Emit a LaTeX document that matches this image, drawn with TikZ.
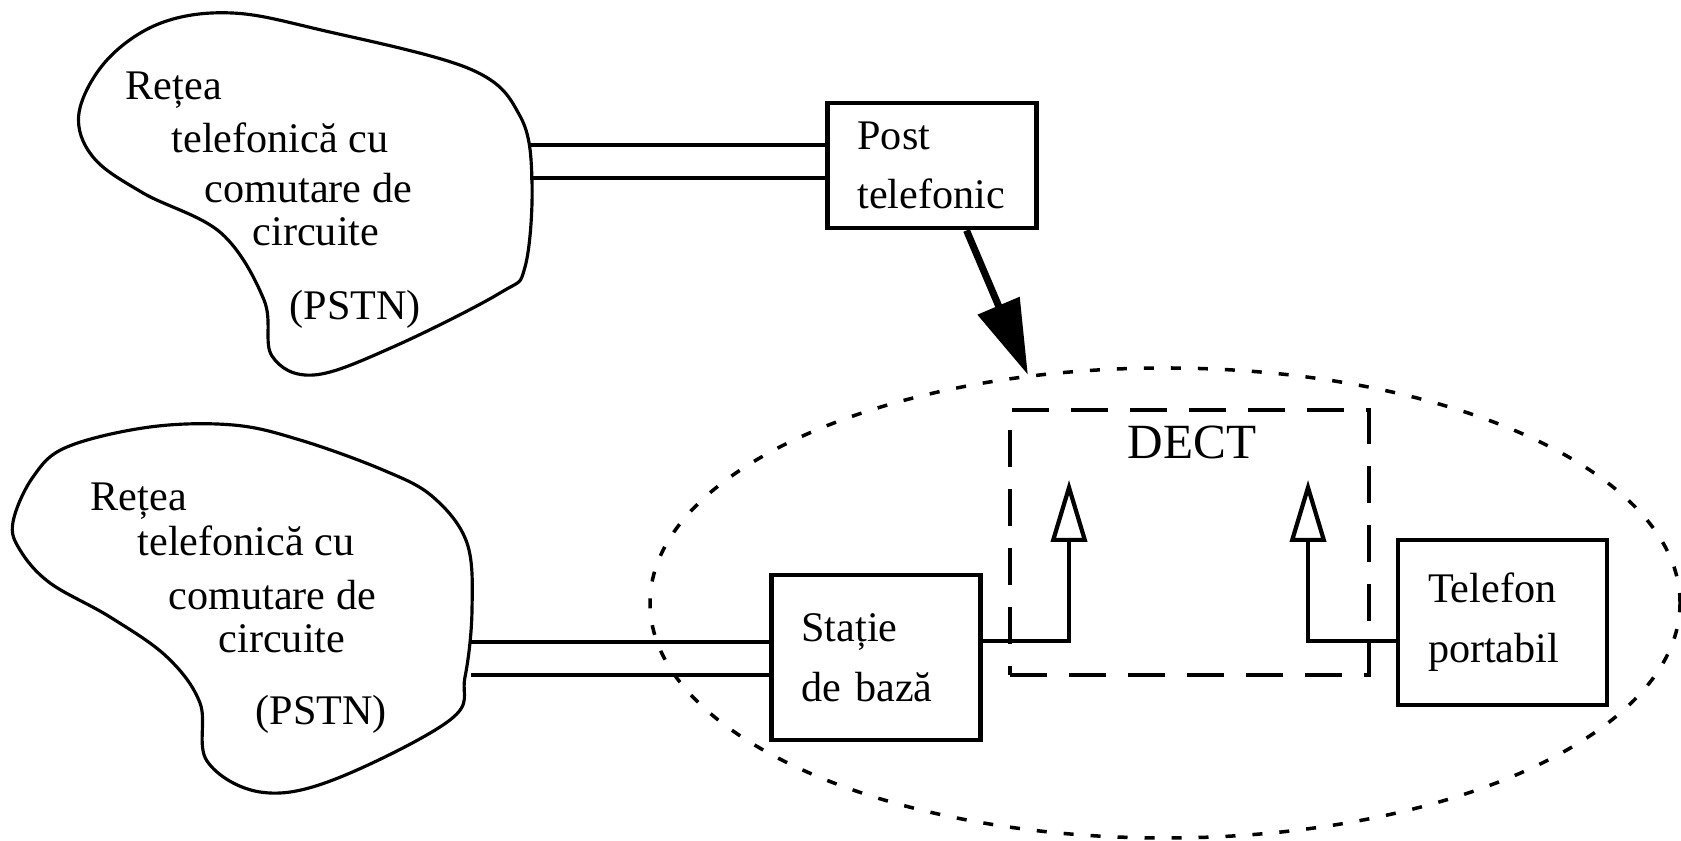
\documentclass[tikz,border=0pt]{standalone}
\usepackage{fontspec}
\setmainfont{LiberationSerif}[Extension=.ttf, UprightFont=*-Regular, BoldFont=*-Bold]
\usetikzlibrary{arrows.meta,shapes.geometric}

\tikzset{
  netshape/.style={line width=0.9pt},
  netlbl/.style={inner sep=0pt, anchor=base west, font=\fontsize{12}{14}\selectfont},
  wire/.style={line width=1.1pt},
  unitbox/.style={draw, line width=1.4pt, align=left, text width=1.49cm, inner xsep=0.30cm, font=\fontsize{12}{17}\selectfont},
  zone/.style={ellipse, draw, line width=1pt, dash pattern=on 0.10cm off 0.17cm, minimum width=10.30cm, minimum height=4.70cm, inner sep=0pt},
  dectbox/.style={draw, line width=1.1pt, dash pattern=on 0.37cm off 0.22cm, minimum width=3.59cm, minimum height=2.65cm, inner sep=0pt},
  linkarrow/.style={line width=1.2pt, -{Triangle[open, length=0.62cm, width=0.36cm]}},
  bigarrow/.style={line width=2pt, -{Triangle[length=0.75cm, width=0.44cm]}}
}

\begin{document}
\begin{tikzpicture}
        \useasboundingbox (0,0) rectangle (16.81,8.41);

        % DECT coverage area
        \node[zone] (zone) at (11.65,2.38) {};

        % Upper PSTN cloud
        \draw[netshape] plot[smooth cycle, tension=0.6] coordinates {
            (2.32,8.28) (3.21,8.11) (4.70,7.72) (5.20,7.25) (5.32,6.60)
            (5.25,5.74) (5.00,5.48) (3.93,4.94) (3.14,4.66) (2.72,4.85)
            (2.64,5.41) (2.21,6.08) (1.43,6.48) (0.93,6.84) (0.79,7.28) (1.07,7.81)
            (1.61,8.18)};
        \node[netlbl] (netA1) at (1.25,7.41) {Rețea};
        \node[netlbl] (netA2) at (1.71,6.88) {telefonică cu};
        \node[netlbl] (netA3) at (2.04,6.38) {comutare de};
        \node[netlbl] (netA4) at (2.52,5.95) {circuite};
        \node[netlbl] (netA5) at (2.89,5.21) {(PSTN)};

        % Lower PSTN cloud
        \draw[netshape] plot[smooth cycle, tension=0.6] coordinates {
            (2.33,4.16) (3.00,4.01) (3.83,3.71) (4.33,3.44) (4.67,2.98) (4.72,2.31)
            (4.65,1.64) (4.50,1.21) (3.33,0.61) (2.60,0.49) (2.07,0.80)
            (2.00,1.38) (1.67,1.84) (1.10,2.24) (0.50,2.58) (0.20,2.91) (0.13,3.19)
            (0.33,3.64) (0.67,3.94) (1.50,4.14)};
        \node[netlbl] (netB1) at (0.90,3.30) {Rețea};
        \node[netlbl] (netB2) at (1.37,2.85) {telefonică cu};
        \node[netlbl] (netB3) at (1.68,2.31) {comutare de};
        \node[netlbl] (netB4) at (2.18,1.88) {circuite};
        \node[netlbl] (netB5) at (2.55,1.16) {(PSTN)};

        % Units
        \node[unitbox, minimum height=1.25cm] (post) at (9.32,6.755) {Post\\telefonic};
        \node[unitbox, minimum height=1.65cm] (stat) at (8.76,1.835) {Stație\\de bază};
        \node[unitbox, minimum height=1.65cm] (tel) at (15.025,2.185) {Telefon\\portabil};

        % DECT link
        \node[dectbox] (dect) at (11.895,2.985) {};
        \node[font=\fontsize{14}{16}\selectfont, inner sep=0pt] (dectlbl) at (11.92,3.99) {DECT};

        % Line ends
        \coordinate (endA1) at (5.30,6.96);
        \coordinate (endA2) at (5.30,6.63);
        \coordinate (endB1) at (4.71,1.99);
        \coordinate (endB2) at (4.71,1.66);
        \coordinate (lvl) at (0,2.00);
        \coordinate (tipA) at (10.69,3.61);
        \coordinate (tipB) at (13.08,3.61);

        % Subscriber lines
        \draw[wire] (endA1) -- (post.west |- endA1);
        \draw[wire] (endA2) -- (post.west |- endA2);
        \draw[wire] (endB1) -- (stat.west |- endB1);
        \draw[wire] (endB2) -- (stat.west |- endB2);

        % Radio parts
        \draw[linkarrow] (stat.east |- lvl) -| (tipA);
        \draw[linkarrow] (tel.west |- lvl) -| (tipB);

        % Post replaced by DECT
        \draw[bigarrow] (post.-62) -- (zone.121);
    \end{tikzpicture}
\end{document}
